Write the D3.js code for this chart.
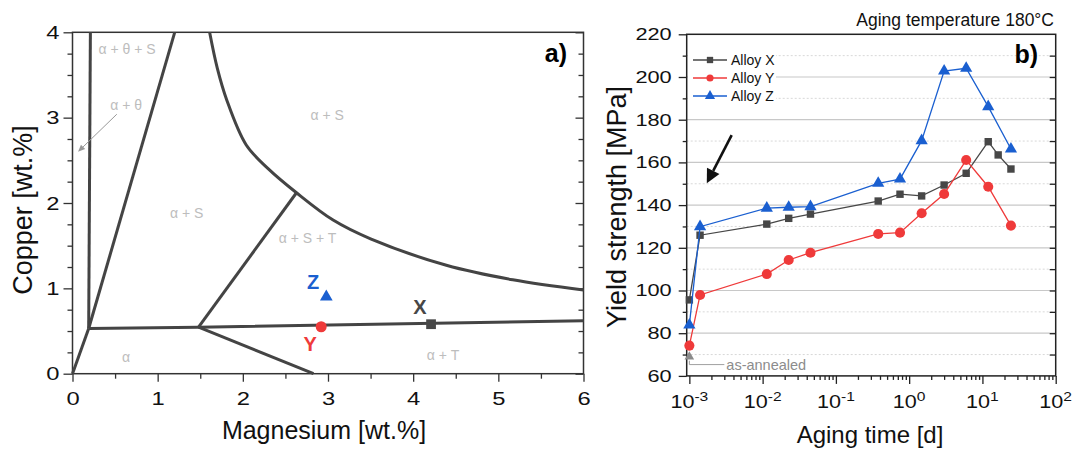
<!DOCTYPE html>
<html>
<head>
<meta charset="utf-8">
<script src="https://cdn.jsdelivr.net/npm/d3@7"></script>
<style>
  body { margin: 0; background: #fff; }
  svg { display: block; font-family: Arial, "Liberation Sans", sans-serif; }
</style>
</head>
<body>
<div id="chart"></div>
<script>

// ---- panel a: phase diagram (Mg / Cu in wt.%) ----
var magnesiumTicks = [0, 1, 2, 3, 4, 5, 6];
var copperTicks = [0, 1, 2, 3, 4];

// straight phase boundaries, [Mg, Cu]
var boundaryLines = [
    [[0.21, 4.0], [0.19, 0.53]],
    [[0.0, 0.0], [0.19, 0.53]],
    [[0.19, 0.53], [1.20, 4.0]],
    [[0.19, 0.53], [1.48, 0.545], [6.0, 0.62]],
    [[1.48, 0.545], [2.63, 2.12]],
    [[1.48, 0.545], [2.83, 0.0]]
];
// curved solvus line
var solvusCurve = [[1.61, 4.0], [1.70, 3.58], [1.81, 3.21], [2.04, 2.68], [2.30, 2.40], [2.63, 2.12],
    [3.06, 1.80], [3.50, 1.58], [4.39, 1.27], [5.17, 1.10], [6.0, 0.98]];

var phaseLabels = ["\u03b1 + \u03b8 + S", "\u03b1 + \u03b8", "\u03b1 + S", "\u03b1 + S", "\u03b1 + S + T", "\u03b1", "\u03b1 + T"];
var phaseLabelMg = [0.64, 0.63, 1.34, 2.99, 2.76, 0.63, 4.35];
var phaseLabelCu = [3.80, 3.15, 1.88, 3.03, 1.59, 0.20, 0.22];

var alloyNames = ["X", "Y", "Z"];
var alloyMg = [4.21, 2.92, 2.98];
var alloyCu = [0.58, 0.55, 0.90];

// ---- panel b: yield strength vs aging time ----
var timeTicks = [1e-3, 1e-2, 1e-1, 1e0, 1e1, 1e2];
var strengthTicks = [60, 80, 100, 120, 140, 160, 180, 200, 220];

var timesX = [0.001, 0.0014, 0.0114, 0.0227, 0.045, 0.378, 0.75, 1.48, 3.0, 6.0, 12.0, 16.4, 24.5];
var alloyX = [95.6, 125.9, 131.1, 133.8, 135.8, 141.9, 145.1, 144.3, 149.4, 154.9, 169.7, 163.5, 156.9];
var timesYZ = [0.001, 0.0014, 0.0114, 0.0227, 0.045, 0.378, 0.75, 1.48, 3.0, 6.0, 12.0, 24.5];
var alloyY = [74.2, 97.9, 107.7, 114.3, 117.7, 126.5, 127.1, 136.2, 145.2, 161.1, 148.6, 130.4];
var alloyZ = [83.8, 129.9, 138.6, 139.0, 139.3, 150.2, 152.2, 170.2, 202.8, 204.1, 186.1, 166.3];
var asAnnealed = 69;

var colors = { X: "#474747", Y: "#ef3a3a", Z: "#1a5fd0" };
var symbols = { X: d3.symbolSquare, Y: d3.symbolCircle, Z: d3.symbolTriangle };

var svg = d3.select("#chart").append("svg")
    .attr("width", 1077)
    .attr("height", 450);

// stretch tick labels sideways a little, like the original
function widenLabels(sel, sx) {
    sel.selectAll(".tick text").each(function() {
        var t = d3.select(this);
        var x = +t.attr("x") || 0;
        t.attr("x", x / sx).attr("transform", "scale(" + sx + ",1)");
    });
}

/* ================= panel a ================= */
var xA = d3.scaleLinear().domain([0, 6]).range([72.5, 583.5]);
var yA = d3.scaleLinear().domain([0, 4]).range([373.7, 32.3]);
var gA = svg.append("g");

var quarterTicks = d3.range(0, 4.01, 0.25).filter(function(d) { return d % 1 !== 0; });
var halfTicks = d3.range(0.5, 6, 1);

var leftA = gA.append("g").attr("transform", "translate(" + xA(0) + ",0)")
    .call(d3.axisLeft(yA).tickValues(copperTicks).tickFormat(d3.format("d"))
        .tickSize(9).tickSizeOuter(0).tickPadding(4));
leftA.selectAll("text").style("font-size", "19px").attr("fill", "#111");
widenLabels(leftA, 1.25);
gA.append("g").attr("transform", "translate(" + xA(0) + ",0)")
    .call(d3.axisLeft(yA).tickValues(quarterTicks).tickSize(5).tickSizeOuter(0).tickFormat(""));

var bottomA = gA.append("g").attr("transform", "translate(0," + yA(0) + ")")
    .call(d3.axisBottom(xA).tickValues(magnesiumTicks).tickFormat(d3.format("d"))
        .tickSize(8).tickSizeOuter(0).tickPadding(10));
bottomA.selectAll("text").style("font-size", "19px").attr("fill", "#111");
widenLabels(bottomA, 1.25);
gA.append("g").attr("transform", "translate(0," + yA(0) + ")")
    .call(d3.axisBottom(xA).tickValues(halfTicks).tickSize(5).tickSizeOuter(0).tickFormat(""));

// inward ticks on the right edge
gA.append("g").attr("transform", "translate(" + xA(6) + ",0)")
    .call(d3.axisLeft(yA).tickValues(copperTicks).tickSize(8).tickSizeOuter(0).tickFormat(""));
gA.append("g").attr("transform", "translate(" + xA(6) + ",0)")
    .call(d3.axisLeft(yA).tickValues(quarterTicks).tickSize(5).tickSizeOuter(0).tickFormat(""));

gA.selectAll(".domain").remove();
gA.selectAll(".tick line").attr("stroke", "#333").attr("stroke-width", 1.3);

gA.append("rect")
    .attr("x", xA(0)).attr("y", yA(4))
    .attr("width", xA(6) - xA(0)).attr("height", yA(0) - yA(4))
    .attr("fill", "none").attr("stroke", "#333").attr("stroke-width", 1.5);

var lineA = d3.line().x(function(d) { return xA(d[0]); }).y(function(d) { return yA(d[1]); });

gA.selectAll(".boundary")
    .data(boundaryLines)
    .enter().append("path")
    .attr("class", "boundary")
    .attr("d", lineA)
    .attr("fill", "none")
    .attr("stroke", "#444")
    .attr("stroke-width", 3)
    .attr("stroke-linejoin", "round");

gA.append("path")
    .attr("d", lineA.curve(d3.curveCatmullRom)(solvusCurve))
    .attr("fill", "none")
    .attr("stroke", "#444")
    .attr("stroke-width", 3);

gA.selectAll(".phase")
    .data(phaseLabels)
    .enter().append("text")
    .attr("class", "phase")
    .attr("x", function(d, i) { return xA(phaseLabelMg[i]); })
    .attr("y", function(d, i) { return yA(phaseLabelCu[i]); })
    .attr("dy", "0.35em")
    .attr("text-anchor", "middle")
    .style("font-size", "14px")
    .attr("fill", "#bdbdbd")
    .text(function(d) { return d; });

// little arrow pointing at the thin alpha+theta field
var arrA = [[0.52, 3.04], [0.065, 2.60]];
drawArrow(gA, xA(arrA[0][0]), yA(arrA[0][1]), xA(arrA[1][0]), yA(arrA[1][1]), "#999", 1, 7, 3);

// alloy compositions
alloyNames.forEach(function(name, i) {
    gA.append("path")
        .attr("transform", "translate(" + xA(alloyMg[i]) + "," + yA(alloyCu[i]) + ")")
        .attr("d", d3.symbol().type(symbols[name]).size(name === "Z" ? 70 : 95)())
        .attr("fill", colors[name]);
});
var alloyLabelMg = [4.08, 2.79, 2.825];
var alloyLabelCu = [0.78, 0.356, 1.08];
gA.selectAll(".alloylabel")
    .data(alloyNames)
    .enter().append("text")
    .attr("class", "alloylabel")
    .attr("x", function(d, i) { return xA(alloyLabelMg[i]); })
    .attr("y", function(d, i) { return yA(alloyLabelCu[i]); })
    .attr("dy", "0.36em")
    .attr("text-anchor", "middle")
    .style("font-size", "20px")
    .style("font-weight", "bold")
    .attr("fill", function(d) { return colors[d]; })
    .text(function(d) { return d; });

gA.append("text")
    .attr("x", 567).attr("y", 62)
    .attr("text-anchor", "end")
    .style("font-size", "25px").style("font-weight", "bold")
    .text("a)");

gA.append("text")
    .attr("x", 324).attr("y", 439)
    .attr("text-anchor", "middle")
    .style("font-size", "25px")
    .attr("fill", "#111")
    .text("Magnesium [wt.%]");

gA.append("text")
    .attr("transform", "translate(32,210) rotate(-90)")
    .attr("text-anchor", "middle")
    .style("font-size", "27px")
    .attr("fill", "#111")
    .text("Copper [wt.%]");

/* ================= panel b ================= */
var xB = d3.scaleLog().domain([9.2e-4, 100]).range([686.7, 1055.7]);
var yB = d3.scaleLinear().domain([60, 220]).range([375.9, 34.3]);
var gB = svg.append("g");

var majorGrid = strengthTicks.slice(1, -1);
var minorStrength = d3.range(70, 220, 20);

gB.selectAll(".gridmajor")
    .data(majorGrid)
    .enter().append("line")
    .attr("x1", xB.range()[0]).attr("x2", xB.range()[1])
    .attr("y1", yB).attr("y2", yB)
    .attr("stroke", "#c8c8c8").attr("stroke-width", 1.2);

gB.selectAll(".gridminor")
    .data(minorStrength)
    .enter().append("line")
    .attr("x1", xB.range()[0]).attr("x2", xB.range()[1])
    .attr("y1", yB).attr("y2", yB)
    .attr("stroke", "#d8d8d8").attr("stroke-width", 1)
    .attr("stroke-dasharray", "2,2");

// legend box hides the grid behind it
gB.append("rect")
    .attr("x", 688).attr("y", 47).attr("width", 88).attr("height", 60)
    .attr("fill", "#fff");

var leftB = gB.append("g").attr("transform", "translate(" + xB.range()[0] + ",0)")
    .call(d3.axisLeft(yB).tickValues(strengthTicks).tickSize(8).tickSizeOuter(0).tickPadding(7));
leftB.selectAll("text").style("font-size", "17px").attr("fill", "#111");
widenLabels(leftB, 1.28);
gB.append("g").attr("transform", "translate(" + xB.range()[0] + ",0)")
    .call(d3.axisLeft(yB).tickValues(minorStrength).tickSize(4).tickSizeOuter(0).tickFormat(""));
gB.append("g").attr("transform", "translate(" + xB.range()[1] + ",0)")
    .call(d3.axisLeft(yB).tickValues(d3.range(70, 220, 10)).tickSize(6).tickSizeOuter(0).tickFormat(""));

var minorTimes = [];
[1e-3, 1e-2, 1e-1, 1e0, 1e1].forEach(function(dec) {
    for (var k = 2; k <= 9; k++) minorTimes.push(dec * k);
});
gB.append("g").attr("transform", "translate(0," + yB(60) + ")")
    .call(d3.axisBottom(xB).tickValues(timeTicks).tickSize(8).tickSizeOuter(0).tickFormat(""));
gB.append("g").attr("transform", "translate(0," + yB(60) + ")")
    .call(d3.axisBottom(xB).tickValues(minorTimes).tickSize(4).tickSizeOuter(0).tickFormat(""));

gB.selectAll(".domain").remove();
gB.selectAll(".tick line").attr("stroke", "#222").attr("stroke-width", 1.3);

var expLabels = gB.selectAll(".explabel")
    .data(timeTicks)
    .enter().append("text")
    .attr("class", "explabel")
    .attr("transform", function(d) { return "translate(" + xB(d) + "," + (yB(60) + 32.4) + ") scale(1.2,1)"; })
    .attr("text-anchor", "middle")
    .style("font-size", "18px")
    .attr("fill", "#111");
expLabels.append("tspan").text("10");
expLabels.append("tspan")
    .attr("dy", "-0.55em")
    .style("font-size", "13px")
    .text(function(d) { return Math.round(Math.log10(d)); });

gB.append("rect")
    .attr("x", xB.range()[0]).attr("y", yB(220))
    .attr("width", xB.range()[1] - xB.range()[0]).attr("height", yB(60) - yB(220))
    .attr("fill", "none").attr("stroke", "#222").attr("stroke-width", 1.5);

var series = [
    { name: "X", times: timesX, values: alloyX },
    { name: "Y", times: timesYZ, values: alloyY },
    { name: "Z", times: timesYZ, values: alloyZ }
];

var lineB = d3.line()
    .x(function(d) { return xB(d[0]); })
    .y(function(d) { return yB(d[1]); });

series.forEach(function(s) {
    var pts = s.times.map(function(t, i) { return [t, s.values[i]]; });
    gB.append("path")
        .attr("d", lineB(pts))
        .attr("fill", "none")
        .attr("stroke", colors[s.name])
        .attr("stroke-width", 1.3);
    gB.selectAll(".pt" + s.name)
        .data(pts)
        .enter().append("path")
        .attr("transform", function(d) { return "translate(" + xB(d[0]) + "," + yB(d[1]) + ")"; })
        .attr("d", d3.symbol().type(symbols[s.name]).size(s.name === "Z" ? 65 : (s.name === "Y" ? 80 : 55))())
        .attr("fill", colors[s.name]);
});

// as-annealed reference
gB.append("path")
    .attr("transform", "translate(" + xB(1e-3) + "," + yB(asAnnealed) + ")")
    .attr("d", d3.symbol().type(d3.symbolTriangle).size(40)())
    .attr("fill", "#8a8a8a");
gB.append("path")
    .attr("d", "M" + xB(1e-3) + "," + (yB(asAnnealed) + 4) + "V" + yB(65.3) + "H" + (xB(1e-3) + 35))
    .attr("fill", "none").attr("stroke", "#a0a0a0").attr("stroke-width", 1);
gB.append("text")
    .attr("x", xB(1e-3) + 37).attr("y", yB(65.3))
    .attr("dy", "0.35em")
    .style("font-size", "14.5px")
    .attr("fill", "#8c8c8c")
    .text("as-annealed");

// legend
var legendY = [60, 78, 96];
series.forEach(function(s, i) {
    var lg = gB.append("g").attr("transform", "translate(693," + legendY[i] + ")");
    lg.append("line").attr("x1", 0).attr("x2", 34).attr("stroke", colors[s.name]).attr("stroke-width", 1.3);
    lg.append("path")
        .attr("transform", "translate(17,0)")
        .attr("d", d3.symbol().type(symbols[s.name]).size(s.name === "Z" ? 45 : 40)())
        .attr("fill", colors[s.name]);
    lg.append("text")
        .attr("x", 38).attr("dy", "0.35em")
        .style("font-size", "14px")
        .attr("fill", "#111")
        .text("Alloy " + s.name);
});

// black arrow toward the low-time region
var arrB = [[0.00378, 172.8], [0.00173, 150.2]];
drawArrow(gB, xB(arrB[0][0]), yB(arrB[0][1]), xB(arrB[1][0]), yB(arrB[1][1]), "#111", 2.6, 14, 7);

gB.append("text")
    .attr("x", 1038).attr("y", 63)
    .attr("text-anchor", "end")
    .style("font-size", "25px").style("font-weight", "bold")
    .text("b)");

gB.append("text")
    .attr("x", 1054).attr("y", 26)
    .attr("text-anchor", "end")
    .style("font-size", "17.5px")
    .attr("fill", "#111")
    .text("Aging temperature 180\u00b0C");

gB.append("text")
    .attr("x", 870).attr("y", 443)
    .attr("text-anchor", "middle")
    .style("font-size", "24px")
    .attr("fill", "#111")
    .text("Aging time [d]");

gB.append("text")
    .attr("transform", "translate(626,207) rotate(-90)")
    .attr("text-anchor", "middle")
    .style("font-size", "27px")
    .attr("fill", "#111")
    .text("Yield strength [MPa]");

function drawArrow(g, x1, y1, x2, y2, color, width, headLen, headHalf) {
    var ang = Math.atan2(y2 - y1, x2 - x1);
    var bx = x2 - headLen * Math.cos(ang), by = y2 - headLen * Math.sin(ang);
    g.append("line")
        .attr("x1", x1).attr("y1", y1).attr("x2", bx).attr("y2", by)
        .attr("stroke", color).attr("stroke-width", width);
    var px = -Math.sin(ang) * headHalf, py = Math.cos(ang) * headHalf;
    g.append("path")
        .attr("d", "M" + x2 + "," + y2 + "L" + (bx + px) + "," + (by + py) + "L" + (bx - px) + "," + (by - py) + "Z")
        .attr("fill", color);
}
</script>
</body>
</html>
